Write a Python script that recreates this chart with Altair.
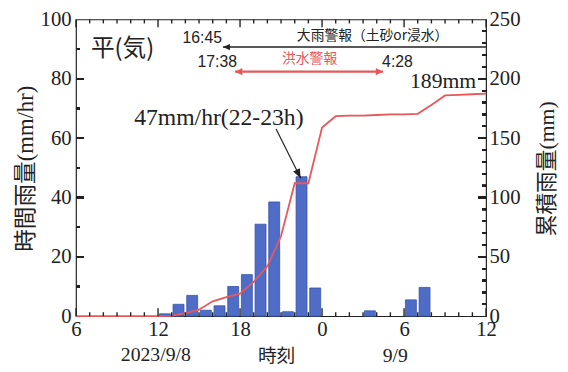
import altair as alt
import pandas as pd

# ---- data (hours counted from 2023/9/8 0:00) ----
bar_start = [12, 13, 14, 15, 16, 17, 18, 19, 20, 21, 22, 23, 27, 30, 31]
bar_mm = [0.8, 4, 7, 2, 3.5, 10, 14, 31, 38.5, 1.5, 47, 9.5, 1.8, 5.5, 9.7]

cum_hour = list(range(6, 37))
cum_mm = [0, 0, 0, 0, 0, 0, 0, 0.3, 2.5, 5.5, 12.5, 16, 19, 29, 42, 67.5, 112, 112,
          159, 168.5, 169, 169, 169.5, 170, 170, 170.5, 178, 186, 186.5, 187, 187.5]

x_major = [6, 12, 18, 24, 30, 36]
x_minor = [h for h in range(6, 37) if h % 6]
yl_major = [0, 20, 40, 60, 80, 100]
yl_minor = [10, 30, 50, 70, 90]
yr_major = [0, 50, 100, 150, 200, 250]
yr_minor = [v for v in range(0, 251, 10) if v % 50]

# warnings: 大雨警報 from 16:45 (continuing), 洪水警報 17:38 - 4:28 (next day)
heavy_start, heavy_end = 16 + 45 / 60, 36
flood_start, flood_end = 17 + 38 / 60, 24 + 4 + 28 / 60

df_bar = pd.DataFrame({"start": bar_start, "mm": bar_mm})
df_cum = pd.DataFrame({"hour": cum_hour, "cum": cum_mm})

W, H = 416, 301
BLUE, BLUE_D = "#4f6dc6", "#3653a8"
RED = "#e6585a"
INK = "#222222"
SERIF = "Liberation Serif"
MIX = "'Liberation Serif', 'Noto Sans CJK JP'"
CJK = "Noto Sans CJK JP"
SANS = "Liberation Sans"

XSCALE = dict(domain=[6, 36], nice=False, zero=False)
YL_SCALE = dict(domain=[0, 100], nice=False)
YR_SCALE = dict(domain=[0, 250], nice=False)
HOURS_PER_PX = 30 / W


def xs(field, axis=None):
    return alt.X(field, type="quantitative", scale=alt.Scale(**XSCALE), axis=axis)


def yl(field, axis=None):
    return alt.Y(field, type="quantitative", scale=alt.Scale(**YL_SCALE), axis=axis)


def yr(field, axis=None):
    return alt.Y(field, type="quantitative", scale=alt.Scale(**YR_SCALE), axis=axis)


bars = alt.Chart(df_bar).transform_calculate(
    x0="datum.start + 0.1", x1="datum.start + 0.9", z="0"
).mark_bar(color=BLUE, stroke=BLUE_D, strokeWidth=0.8).encode(
    x=xs("x0", alt.Axis(orient="bottom", values=x_major, labelExpr="datum.value % 24",
                        ticks=False, labelPadding=3, labelFont=SERIF, labelFontSize=21,
                        labelColor=INK, labelFlush=False, labelOverlap=False,
                        domain=False, grid=False,
                        title="時刻", titleFont=CJK, titleFontSize=19,
                        titleFontWeight="normal", titleColor=INK,
                        titleX=203, titleY=40, titleAlign="center",
                        titleBaseline="middle")),
    x2=alt.X2("x1"),
    y=yl("mm", alt.Axis(orient="left", values=yl_major, ticks=False, labelPadding=5,
                        labelFont=SERIF, labelFontSize=21, labelColor=INK,
                        domain=False, grid=False,
                        title="時間雨量(mm/hr)", titleFont=MIX, titleFontSize=23,
                        titleFontWeight="normal", titleColor=INK,
                        titleX=-51, titleY=151, titleAlign="center",
                        titleBaseline="middle", titleAngle=270)),
    y2=alt.Y2("z"),
)

line = alt.Chart(df_cum).mark_line(color=RED, strokeWidth=1.8).encode(
    x=xs("hour"),
    y=yr("cum", alt.Axis(orient="right", values=yr_major, ticks=False, labelPadding=3,
                         labelFont=SERIF, labelFontSize=21, labelColor=INK,
                         domain=False, grid=False,
                         title="累積雨量(mm)", titleFont=MIX, titleFontSize=22,
                         titleFontWeight="normal", titleColor=INK, titleAngle=270,
                         titleX=61, titleY=151, titleAlign="center",
                         titleBaseline="middle")),
)


# ---- inward tick marks (drawn as short rules from the tick lists) ----
def htick(values, length, edge_val, up):
    df = pd.DataFrame({"v": values})
    return alt.Chart(df).mark_rule(color=INK, strokeWidth=1.4, opacity=1).encode(
        x=xs("v"),
        y=alt.YDatum(edge_val, type="quantitative", scale=alt.Scale(**YL_SCALE), axis=None),
        y2=alt.value(H - length if up else length),
    )


def vtick(value, length, yscale, left_edge):
    start = 6 if left_edge else 36
    end = start + length * HOURS_PER_PX if left_edge else start - length * HOURS_PER_PX
    return alt.Chart(df_cum).mark_rule(color=INK, strokeWidth=1.4, opacity=1).encode(
        x=alt.XDatum(start, type="quantitative", scale=alt.Scale(**XSCALE), axis=None),
        x2=alt.X2Datum(end),
        y=alt.YDatum(value, type="quantitative", scale=alt.Scale(**yscale), axis=None),
    )


tick_layers = [
    htick(x_major, 8, 0, True),
    htick(x_minor, 4, 0, True),
    htick(x_major, 8, 100, False),
    htick(x_minor, 4, 100, False),
]
tick_layers += [vtick(v, 8, YL_SCALE, True) for v in yl_major[1:-1]]
tick_layers += [vtick(v, 4, YL_SCALE, True) for v in yl_minor]
tick_layers += [vtick(v, 8, YR_SCALE, False) for v in yr_major[1:-1]]
tick_layers += [vtick(v, 4, YR_SCALE, False) for v in yr_minor]

# ---- warning arrows ----
df_heavy = pd.DataFrame({"s": [heavy_start], "e": [heavy_end], "lvl": [90.7]})
heavy_line = alt.Chart(df_heavy).mark_rule(color=INK, strokeWidth=1.4).encode(
    x=xs("s"), x2=alt.X2("e"), y=yl("lvl"))
heavy_head = alt.Chart(df_heavy).mark_point(
    shape="M0,0 L-1,-0.45 L-1,0.45 Z", filled=True, color=INK, opacity=1,
    size=200, angle=180).encode(x=xs("s"), y=yl("lvl"))

df_flood = pd.DataFrame({"s": [flood_start], "e": [flood_end], "lvl": [82.4]})
flood_line = alt.Chart(df_flood).mark_rule(color=RED, strokeWidth=2.4).encode(
    x=xs("s"), x2=alt.X2("e"), y=yl("lvl"))
flood_head_l = alt.Chart(df_flood).mark_point(
    shape="M0,0 L-1,-0.5 L-1,0.5 Z", filled=True, color=RED, opacity=1,
    size=220, angle=180).encode(x=xs("s"), y=yl("lvl"))
flood_head_r = alt.Chart(df_flood).mark_point(
    shape="M0,0 L-1,-0.5 L-1,0.5 Z", filled=True, color=RED, opacity=1,
    size=220).encode(x=xs("e"), y=yl("lvl"))

# ---- peak annotation arrow ----
df_peak = pd.DataFrame({"x": [20.64], "y": [63.1], "x2": [22.44], "y2": [46.5]})
peak_line = alt.Chart(df_peak).mark_rule(color=INK, strokeWidth=1.2).encode(
    x=xs("x"), y=yl("y"), x2=alt.X2("x2"), y2=alt.Y2("y2"))
peak_head = alt.Chart(df_peak).mark_point(
    shape="M0,0 L-1,-0.4 L-1,0.4 Z", filled=True, color=INK, opacity=1,
    size=360, angle=63).encode(x=xs("x2"), y=yl("y2"))


def label(text, x, y, font, size, color=INK, align="center", dx=0):
    df = pd.DataFrame({"t": [text], "x": [x], "y": [y]})
    return alt.Chart(df).mark_text(font=font, fontSize=size, color=color, align=align,
                                   baseline="middle", dx=dx).encode(
        x=xs("x"), y=yl("y"), text="t:N")


texts = [
    label("平(気)", 7.09, 90, CJK, 24, align="left"),
    label("16:45", heavy_start, 93.7, SANS, 16, align="right", dx=-1),
    label("大雨警報（土砂or浸水）", 27.7, 94.4, CJK, 14),
    label("17:38", flood_start, 85.7, SANS, 16, align="right", dx=2),
    label("洪水警報", 23.09, 86.7, CJK, 14, color=RED),
    label("4:28", flood_end, 85.7, SANS, 16, align="left", dx=-1),
    label("189mm", 36, 79.1, SERIF, 22, align="right", dx=-10),
    label("47mm/hr(22-23h)", 16.45, 66.8, SERIF, 24),
    label("2023/9/8", 11.84, -13, SERIF, 20),
    label("9/9", 29.36, -13.3, SERIF, 20),
]

chart = alt.layer(
    bars, line, *tick_layers,
    heavy_line, heavy_head, flood_line, flood_head_l, flood_head_r,
    peak_line, peak_head, *texts
).resolve_scale(y="independent", x="shared").resolve_axis(x="independent").properties(
    width=W, height=H,
    autosize=alt.AutoSizeParams(type="none"),
    padding={"left": 69, "top": 9, "right": 75, "bottom": 54},
    background="white",
).configure_view(stroke=INK, strokeWidth=1.2)

chart.save("out.html", embed_options={"renderer": "svg", "actions": False})
